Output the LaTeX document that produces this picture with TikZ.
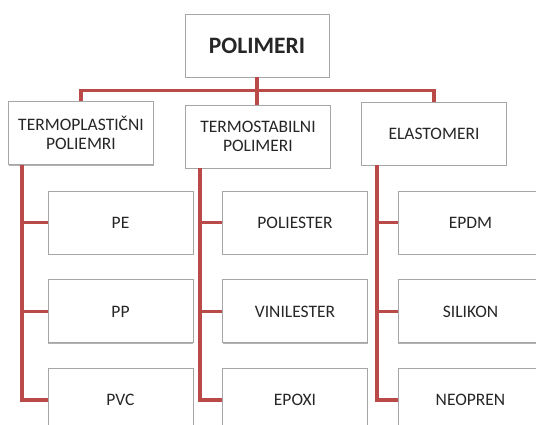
\documentclass[tikz,border=0pt]{standalone}
\usepackage{fontspec}
\setmainfont{Carlito}
\usepackage{tikz}
\usetikzlibrary{positioning, shadows}
\definecolor{LinkRed}{HTML}{B94A48}
\definecolor{BoxGray}{HTML}{A6A6A6}

\begin{document}
\begin{tikzpicture}[x=1pt, y=-1pt,
    box/.style={draw=BoxGray, line width=0.9pt, fill=white, text=black!85, align=center, inner sep=0pt, minimum width=145pt, minimum height=63pt, font=\fontsize{17.5}{19.5}\selectfont, drop shadow={shadow xshift=0.3pt, shadow yshift=-1.4pt, opacity=0.55, fill=black!55}},
    rootbox/.style={box, minimum width=144pt, font=\fontsize{23.5}{26}\selectfont\bfseries},
    link/.style={draw=LinkRed, line width=3.8pt}
  ]
  \useasboundingbox (0,0) rectangle (536,425);
  \clip (0,0) rectangle (536,425);

  % vrh i prva razina
  \node[rootbox] (root) at (257,45.5) {POLIMERI};
  \node[box] (termoplast) at (81,133) {TERMOPLASTIČNI\\POLIEMRI};
  \node[box] (termostab) at (258,136.5) {TERMOSTABILNI\\POLIMERI};
  \node[box] (elasto) at (434,133.5) {ELASTOMERI};

  % druga razina
  \node[box] (pe) at (120.5,222.5) {PE};
  \node[box, below=25pt of pe] (pp) {PP};
  \node[box, below=25pt of pp] (pvc) {PVC};

  \node[box] (poliester) at (295,222.5) {POLIESTER};
  \node[box, below=25pt of poliester] (vinilester) {VINILESTER};
  \node[box, below=25pt of vinilester] (epoxi) {EPOXI};

  \node[box] (epdm) at (470.5,222.5) {EPDM};
  \node[box, below=25pt of epdm] (silikon) {SILIKON};
  \node[box, below=25pt of silikon] (neopren) {NEOPREN};

  \draw[link] (root.south) -- ++(0,13) coordinate (hub) -| (termoplast.north);
  \draw[link] (hub) -| (elasto.north);
  \draw[link] (hub) -- (hub |- termostab.north);

  \draw[link] ([xshift=14pt]termoplast.south west) |- (pe.west);
  \draw[link] ([xshift=14pt]termoplast.south west) |- (pp.west);
  \draw[link] ([xshift=14pt]termoplast.south west) |- (pvc.west);

  \draw[link] ([xshift=15pt]termostab.south west) |- (poliester.west);
  \draw[link] ([xshift=15pt]termostab.south west) |- (vinilester.west);
  \draw[link] ([xshift=15pt]termostab.south west) |- (epoxi.west);

  \draw[link] ([xshift=16pt]elasto.south west) |- (epdm.west);
  \draw[link] ([xshift=16pt]elasto.south west) |- (silikon.west);
  \draw[link] ([xshift=16pt]elasto.south west) |- (neopren.west);

\end{tikzpicture}
\end{document}
